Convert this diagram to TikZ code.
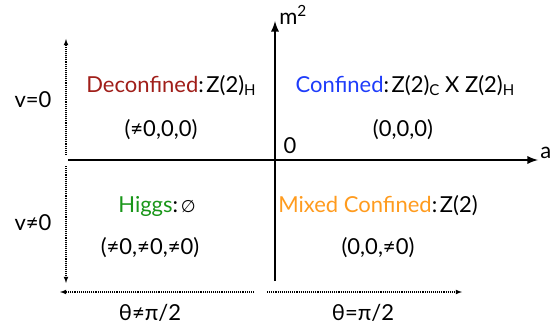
\documentclass[tikz,border=0pt]{standalone}
\usepackage{fontspec}
\setmainfont{Lato}
\newfontfamily\symfont{DejaVu Sans}
\usepackage{xcolor}
\usetikzlibrary{arrows}
\usetikzlibrary{math}

\definecolor{decred}{RGB}{160,30,25}
\definecolor{confblue}{RGB}{30,60,250}
\definecolor{higgsgreen}{RGB}{25,150,25}
\definecolor{mixorange}{RGB}{255,155,30}

\tikzset{
  lbl/.style={font=\fontsize{22}{26}\selectfont, inner sep=0pt},
  axis/.style={-latex, line width=2.6},
  hint/.style={-latex, densely dotted, line width=1.1},
}
\newcommand{\sub}[1]{\raisebox{-0.2ex}{\fontsize{15}{17}\selectfont #1}}
\newcommand{\csep}{:\hspace{0.12em}}

\begin{document}
\begin{tikzpicture}[x=1pt,y=-1pt]
\tikzmath{
\ox=275; \oy=160;
}
\useasboundingbox (0,0) rectangle (557,329);

% axes
\coordinate (O) at (\ox,\oy);
\coordinate (aleft) at (68,\oy);
\coordinate (aright) at (538,\oy);
\coordinate (mbot) at (\ox,281);
\coordinate (mtop) at (\ox,21);
\draw [axis] (aleft) -- (aright) node[right, lbl, yshift=7, xshift=1]{a};
\draw [axis] (mbot) -- (mtop) node[right, lbl, yshift=6, xshift=3]{m\textsuperscript{2}};
\node [lbl] (zero) at (290,146) {0};

% dotted hints on the left
\coordinate (vup0) at (66,155);
\coordinate (vup1) at (66,39);
\coordinate (vdn0) at (66,166);
\coordinate (vdn1) at (66,283);
\draw [hint] (vup0) -- (vup1);
\draw [hint] (vdn0) -- (vdn1);
\node [lbl] (vzero) at (33,100) {v=0};
\node [lbl] (vnonzero) at (33,223) {v≠0};

% dotted hints at the bottom
\coordinate (tl0) at (254,292);
\coordinate (tl1) at (60,292);
\coordinate (tr0) at (267,292);
\coordinate (tr1) at (462,292);
\draw [hint] (tl0) -- (tl1);
\draw [hint] (tr0) -- (tr1);
\node [lbl] (thneq) at (150,313) {θ≠π/2};
\node [lbl] (theq) at (363,313) {θ=π/2};

% phases
\node [lbl] (deconf) at (171,86) {\textcolor{decred}{Deconfined}\csep Z(2)\sub{H}};
\node [lbl] (deconfv) at (161,130) {(≠0,0,0)};
\node [lbl] (conf) at (405,86) {\textcolor{confblue}{Confined}\csep Z(2)\sub{C} X Z(2)\sub{H}};
\node [lbl] (confv) at (403,130) {(0,0,0)};
\node [lbl] (higgs) at (157,206) {\textcolor{higgsgreen}{Higgs}\csep{\symfont\fontsize{17}{20}\selectfont ∅}};
\node [lbl] (higgsv) at (150,248) {(≠0,≠0,≠0)};
\node [lbl] (mixed) at (378,206) {\textcolor{mixorange}{Mixed Confined}\csep Z(2)};
\node [lbl] (mixedv) at (378,248) {(0,0,≠0)};
\end{tikzpicture}
\end{document}
